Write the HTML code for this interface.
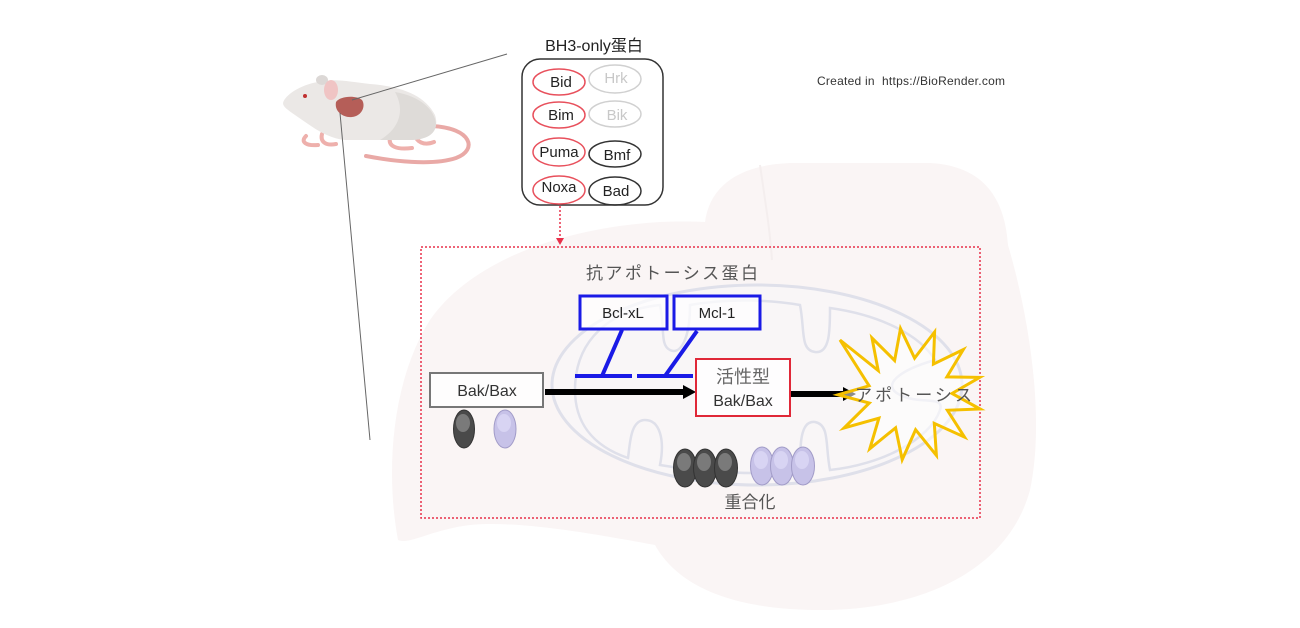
<!DOCTYPE html>
<html><head><meta charset="utf-8"><style>
html,body{margin:0;padding:0;background:#fff;}
svg{display:block;}
text{font-family:"Liberation Sans","Noto Sans CJK JP",sans-serif;}
</style></head><body>
<svg width="1300" height="628" viewBox="0 0 1300 628" xmlns="http://www.w3.org/2000/svg">
<rect width="1300" height="628" fill="#ffffff"/>

<!-- Liver background -->
<path d="M398,540 C385,470 392,380 430,320 C470,262 560,228 660,222 C690,221 700,222 705,222 C710,185 740,165 790,163 L930,163 C985,166 1005,200 1008,245 C1030,320 1045,420 1030,490 C1010,565 930,610 820,610 C740,610 680,590 655,545 C600,535 520,520 470,525 C430,530 410,545 398,540 Z" fill="#faf5f5"/>
<path d="M760,165 C765,200 770,230 772,260" fill="none" stroke="#f4eeee" stroke-width="2"/>

<!-- Mitochondrion -->
<ellipse cx="757" cy="385" rx="205" ry="100" fill="#f8f7fa" fill-opacity="0.5" stroke="#dfe0ea" stroke-width="3"/>
<path d="M575,390 C575,340 610,310 660,305 C665,330 660,345 670,350 C680,355 690,340 690,305 C730,298 770,300 800,305 C805,330 800,350 815,352 C830,354 830,330 830,308 C880,315 920,335 935,360 C900,370 880,385 900,395 C920,405 945,395 940,410 C930,440 880,465 830,470 C825,445 830,425 815,422 C800,420 800,445 800,472 C750,475 700,472 660,465 C665,440 660,420 645,420 C630,420 630,445 628,458 C590,445 575,420 575,390 Z" fill="none" stroke="#dfe0ea" stroke-width="2.5"/>

<!-- Mouse -->
<path d="M432,126 C472,128 478,150 456,158 C432,166 392,161 366,156" fill="none" stroke="#e9a9a6" stroke-width="4" stroke-linecap="round"/>
<path d="M306,136 C300,142 306,146 318,145 M322,134 C320,142 326,146 336,144" fill="none" stroke="#eeb0ac" stroke-width="4" stroke-linecap="round"/>
<path d="M390,138 C388,146 396,150 412,148 M415,134 C416,142 424,146 434,142" fill="none" stroke="#eeb0ac" stroke-width="4" stroke-linecap="round"/>
<path d="M283,103 C285,95 300,85 318,82 C335,78 350,82 370,84 C400,86 425,95 435,115 C440,130 430,140 410,140 L345,140 C325,138 310,125 295,115 C288,110 283,107 283,103 Z" fill="#ebe8e6"/>
<path d="M395,92 C420,96 435,110 436,124 C436,134 426,140 410,140 L380,140 C400,128 405,110 395,92 Z" fill="#dedbd8"/>
<ellipse cx="322" cy="80" rx="6" ry="5" fill="#dcd8d6"/>
<ellipse cx="331" cy="90" rx="7" ry="10" fill="#f0c4c4"/>
<circle cx="305" cy="96" r="2" fill="#c03030"/>
<path d="M336,102 C340,96 356,95 362,100 C366,106 362,116 352,117 C344,118 334,112 336,102 Z" fill="#b55e58"/>

<!-- Connection lines -->
<line x1="507" y1="54" x2="352" y2="100" stroke="#666" stroke-width="1"/>
<line x1="340" y1="113" x2="370" y2="440" stroke="#666" stroke-width="1"/>

<!-- BH3 box -->
<text x="594" y="51" font-size="16" fill="#222" text-anchor="middle">BH3-only蛋白</text>
<rect x="522" y="59" width="141" height="146" rx="18" ry="18" fill="#fff" stroke="#333" stroke-width="1.5"/>
<g font-size="15" text-anchor="middle">
<ellipse cx="559" cy="82" rx="26" ry="13" fill="none" stroke="#e8505c" stroke-width="1.5"/>
<text x="561" y="87" fill="#222">Bid</text>
<ellipse cx="559" cy="115" rx="26" ry="13" fill="none" stroke="#e8505c" stroke-width="1.5"/>
<text x="561" y="120" fill="#222">Bim</text>
<ellipse cx="559" cy="152" rx="26" ry="14" fill="none" stroke="#e8505c" stroke-width="1.5"/>
<text x="559" y="157" fill="#222">Puma</text>
<ellipse cx="559" cy="190" rx="26" ry="14" fill="none" stroke="#e8505c" stroke-width="1.5"/>
<text x="559" y="192" fill="#222">Noxa</text>
<ellipse cx="615" cy="79" rx="26" ry="14" fill="none" stroke="#d0d0d0" stroke-width="1.5"/>
<text x="616" y="83" fill="#c8c8c8">Hrk</text>
<ellipse cx="615" cy="114" rx="26" ry="13" fill="none" stroke="#d0d0d0" stroke-width="1.5"/>
<text x="617" y="120" fill="#c8c8c8">Bik</text>
<ellipse cx="615" cy="154" rx="26" ry="13" fill="none" stroke="#333" stroke-width="1.5"/>
<text x="617" y="160" fill="#222">Bmf</text>
<ellipse cx="615" cy="191" rx="26" ry="14" fill="none" stroke="#333" stroke-width="1.5"/>
<text x="616" y="196" fill="#222">Bad</text>
</g>

<!-- Created in -->
<text x="817" y="85" font-size="12" fill="#333" textLength="188" lengthAdjust="spacing">Created in&#160;&#160;https://BioRender.com</text>

<!-- red dotted arrow -->
<line x1="560" y1="206" x2="560" y2="239" stroke="#e8304a" stroke-width="1.5" stroke-dasharray="2,2"/>
<polygon points="556,238 564,238 560,245" fill="#e8304a"/>

<!-- dashed box -->
<rect x="421" y="247" width="559" height="271" fill="none" stroke="#e8304a" stroke-width="1.5" stroke-dasharray="2,2"/>

<!-- anti-apoptosis label -->
<text x="586" y="279" font-size="17" fill="#555" textLength="172" lengthAdjust="spacing">抗アポトーシス蛋白</text>

<!-- Bcl-xL / Mcl-1 -->
<rect x="580" y="296" width="87" height="33" fill="#fff" fill-opacity="0.7" stroke="#1a1ae6" stroke-width="3"/>
<text x="623" y="318" font-size="15" fill="#222" text-anchor="middle">Bcl-xL</text>
<rect x="674" y="296" width="86" height="33" fill="#fff" fill-opacity="0.7" stroke="#1a1ae6" stroke-width="3"/>
<text x="717" y="318" font-size="15" fill="#222" text-anchor="middle">Mcl-1</text>
<g stroke="#1a1ae6" stroke-width="4">
<line x1="622" y1="330" x2="602" y2="376"/>
<line x1="575" y1="376" x2="632" y2="376"/>
<line x1="697" y1="331" x2="665" y2="376"/>
<line x1="637" y1="376" x2="693" y2="376"/>
</g>

<!-- Bak/Bax box -->
<rect x="430" y="373" width="113" height="34" fill="#fff" fill-opacity="0.8" stroke="#777" stroke-width="2"/>
<text x="487" y="396" font-size="16" fill="#333" text-anchor="middle">Bak/Bax</text>

<!-- arrows -->
<line x1="545" y1="392" x2="686" y2="392" stroke="#000" stroke-width="6"/>
<polygon points="683,385 696,392 683,399" fill="#000"/>
<line x1="791" y1="394" x2="846" y2="394" stroke="#000" stroke-width="6"/>
<polygon points="843,387 856,394 843,401" fill="#000"/>

<!-- active Bak/Bax -->
<rect x="696" y="359" width="94" height="57" fill="#fff" fill-opacity="0.8" stroke="#e02838" stroke-width="2"/>
<text x="743" y="383" font-size="18" fill="#666" text-anchor="middle">活性型</text>
<text x="743" y="406" font-size="16" fill="#333" text-anchor="middle">Bak/Bax</text>

<!-- star -->
<polygon points="934.6,332 933.4,364.1 963.3,349.6 946.9,376.9 979.7,377.4 952,393.5 980.1,409 947.4,410.3 964.5,437.1 934.3,423.4 936.4,455.4 915.6,429.7 902.2,459.6 895.6,427.8 869.8,448.8 878.9,418.2 844,428 869.3,403 838,394.8 869.1,385.8 840,340 878.2,370.5 872,338 894.6,360.5 900.5,328.6 914.6,358.2" fill="#ffffff" fill-opacity="0.55" stroke="#f5c000" stroke-width="3" stroke-linejoin="miter"/>
<text x="855" y="401" font-size="17" fill="#555" textLength="117" lengthAdjust="spacing">アポトーシス</text>

<!-- monomers -->
<g>
<ellipse cx="464" cy="429" rx="10.5" ry="19" fill="#4a4a4a" stroke="#333" stroke-width="1"/>
<ellipse cx="463" cy="423" rx="7" ry="9" fill="#7a7a7a"/>
<ellipse cx="505" cy="429" rx="11" ry="19" fill="#c7c2e8" stroke="#a29cc8" stroke-width="1"/>
<ellipse cx="504" cy="423" rx="7" ry="9" fill="#d8d4f3"/>
</g>

<!-- polymer -->
<g>
<ellipse cx="685" cy="468" rx="11.5" ry="19" fill="#4a4a4a" stroke="#333" stroke-width="1"/>
<ellipse cx="684" cy="462" rx="7" ry="9" fill="#7a7a7a"/>
<ellipse cx="705" cy="468" rx="11.5" ry="19" fill="#4a4a4a" stroke="#333" stroke-width="1"/>
<ellipse cx="704" cy="462" rx="7" ry="9" fill="#7a7a7a"/>
<ellipse cx="726" cy="468" rx="11.5" ry="19" fill="#4a4a4a" stroke="#333" stroke-width="1"/>
<ellipse cx="725" cy="462" rx="7" ry="9" fill="#7a7a7a"/>
<ellipse cx="762" cy="466" rx="11.5" ry="19" fill="#c7c2e8" stroke="#a29cc8" stroke-width="1"/>
<ellipse cx="761" cy="460" rx="7" ry="9" fill="#d8d4f3"/>
<ellipse cx="782" cy="466" rx="11.5" ry="19" fill="#c7c2e8" stroke="#a29cc8" stroke-width="1"/>
<ellipse cx="781" cy="460" rx="7" ry="9" fill="#d8d4f3"/>
<ellipse cx="803" cy="466" rx="11.5" ry="19" fill="#c7c2e8" stroke="#a29cc8" stroke-width="1"/>
<ellipse cx="802" cy="460" rx="7" ry="9" fill="#d8d4f3"/>
</g>
<text x="750" y="508" font-size="17" fill="#555" text-anchor="middle">重合化</text>
</svg>
</body></html>
